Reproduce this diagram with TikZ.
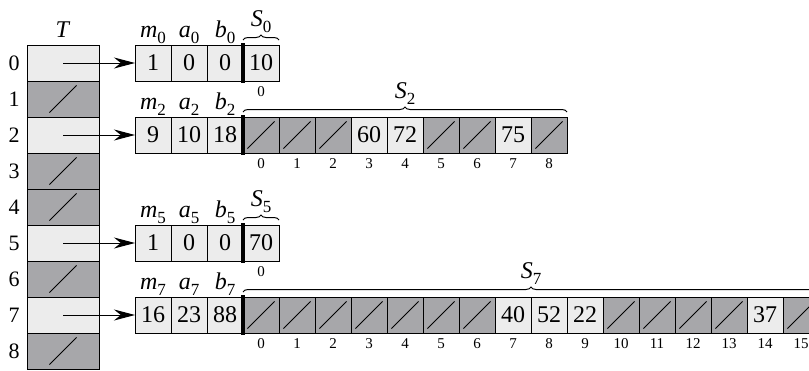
\documentclass[tikz,border=0pt]{standalone}
\usepackage{fontspec}
\setmainfont{Liberation Serif}
\usetikzlibrary{arrows.meta, decorations.pathreplacing}
\definecolor{slotlight}{RGB}{236,236,236}
\definecolor{slotdark}{RGB}{167,167,170}
\newcommand{\sublbl}[2]{\textit{#1}\raisebox{-0.55ex}{\fontsize{8.5pt}{9pt}\selectfont #2}}

\begin{document}
\begin{tikzpicture}[
          x=0.5pt, y=-0.5pt,
          font=\fontsize{12pt}{13pt}\selectfont,
          >=Stealth,
          cell/.style={draw, line width=0.5pt, minimum width=18pt, minimum height=18pt, inner sep=0pt, outer sep=0pt},
          full/.style={cell, fill=slotlight},
          nil/.style={cell, fill=slotdark, path picture={\draw[line width=0.5pt] ([shift={(-6.8pt,-6.8pt)}]path picture bounding box.center) -- ([shift={(6.8pt,6.8pt)}]path picture bounding box.center);}},
          tfull/.style={full, minimum width=36pt},
          tnil/.style={nil, minimum width=36pt},
          idx/.style={anchor=north, inner sep=0pt, font=\fontsize{7.5pt}{8pt}\selectfont},
          rowidx/.style={anchor=east, inner sep=0pt, font=\fontsize{11pt}{12pt}\selectfont},
          lbl/.style={anchor=base, inner sep=0pt},
          bar/.style={line width=1.8pt},
          ptr/.style={-{Stealth[length=10.5pt, width=5.5pt]}, line width=0.5pt},
          brace/.style={decorate, decoration={brace, amplitude=2.5pt}, line width=0.5pt}
      ]
          \useasboundingbox (0,0) rectangle (809,370);

          % Tabel utama T
          \node[lbl] (tname) at (63,37) {\textit{T}};
          \foreach \r in {0,2,5,7} \node[tfull] (t\r) at (63,{63+36*\r}) {};
          \foreach \r in {1,3,4,6,8} \node[tnil] (t\r) at (63,{63+36*\r}) {};
          \foreach \r in {0,...,8} \node[rowidx] (tidx\r) at ([xshift=-3.5pt]t\r.west) {\r};

          % Baris 0
          \node[full] (m0) at (153,63) {1};
          \node[full] (a0) at (189,63) {0};
          \node[full] (b0) at (225,63) {0};
          \node[full] (s0c0) at (261,63) {10};
          \draw[bar] ([yshift=1pt]b0.north east) -- ([yshift=-1pt]b0.south east);
          \node[lbl] (m0l) at ([yshift=4pt]m0.north) {\sublbl{m}{0}};
          \node[lbl] (a0l) at ([yshift=4pt]a0.north) {\sublbl{a}{0}};
          \node[lbl] (b0l) at ([yshift=4pt]b0.north) {\sublbl{b}{0}};
          \node[idx] (s0i0) at ([yshift=-2.5pt]s0c0.south) {0};
          \draw[brace] ([yshift=2.5pt]s0c0.north west) -- ([yshift=2.5pt]s0c0.north east) node[midway, above=3.5pt, inner sep=0pt] (s0l) {\sublbl{S}{0}};
          \draw[ptr] (t0.center) -- (m0.west);

          % Baris 2
          \node[full] (m2) at (153,135) {9};
          \node[full] (a2) at (189,135) {10};
          \node[full] (b2) at (225,135) {18};
          \foreach \j in {0,1,2,5,6,8} \node[nil] (s2c\j) at ({261+36*\j},135) {};
          \node[full] (s2c3) at (369,135) {60};
          \node[full] (s2c4) at (405,135) {72};
          \node[full] (s2c7) at (513,135) {75};
          \draw[bar] ([yshift=1pt]b2.north east) -- ([yshift=-1pt]b2.south east);
          \node[lbl] (m2l) at ([yshift=4pt]m2.north) {\sublbl{m}{2}};
          \node[lbl] (a2l) at ([yshift=4pt]a2.north) {\sublbl{a}{2}};
          \node[lbl] (b2l) at ([yshift=4pt]b2.north) {\sublbl{b}{2}};
          \foreach \j in {0,...,8} \node[idx] (s2i\j) at ([yshift=-2.5pt]s2c\j.south) {\j};
          \draw[brace] ([yshift=2.5pt]s2c0.north west) -- ([yshift=2.5pt]s2c8.north east) node[midway, above=3.5pt, inner sep=0pt] (s2l) {\sublbl{S}{2}};
          \draw[ptr] (t2.center) -- (m2.west);

          % Baris 5
          \node[full] (m5) at (153,243) {1};
          \node[full] (a5) at (189,243) {0};
          \node[full] (b5) at (225,243) {0};
          \node[full] (s5c0) at (261,243) {70};
          \draw[bar] ([yshift=1pt]b5.north east) -- ([yshift=-1pt]b5.south east);
          \node[lbl] (m5l) at ([yshift=4pt]m5.north) {\sublbl{m}{5}};
          \node[lbl] (a5l) at ([yshift=4pt]a5.north) {\sublbl{a}{5}};
          \node[lbl] (b5l) at ([yshift=4pt]b5.north) {\sublbl{b}{5}};
          \node[idx] (s5i0) at ([yshift=-2.5pt]s5c0.south) {0};
          \draw[brace] ([yshift=2.5pt]s5c0.north west) -- ([yshift=2.5pt]s5c0.north east) node[midway, above=3.5pt, inner sep=0pt] (s5l) {\sublbl{S}{5}};
          \draw[ptr] (t5.center) -- (m5.west);

          % Baris 7
          \node[full] (m7) at (153,315) {16};
          \node[full] (a7) at (189,315) {23};
          \node[full] (b7) at (225,315) {88};
          \foreach \j in {0,...,6,10,11,12,13,15} \node[nil] (s7c\j) at ({261+36*\j},315) {};
          \node[full] (s7c7) at (513,315) {40};
          \node[full] (s7c8) at (549,315) {52};
          \node[full] (s7c9) at (585,315) {22};
          \node[full] (s7c14) at (765,315) {37};
          \draw[bar] ([yshift=1pt]b7.north east) -- ([yshift=-1pt]b7.south east);
          \node[lbl] (m7l) at ([yshift=4pt]m7.north) {\sublbl{m}{7}};
          \node[lbl] (a7l) at ([yshift=4pt]a7.north) {\sublbl{a}{7}};
          \node[lbl] (b7l) at ([yshift=4pt]b7.north) {\sublbl{b}{7}};
          \foreach \j in {0,...,15} \node[idx] (s7i\j) at ([yshift=-2.5pt]s7c\j.south) {\j};
          \draw[brace] ([yshift=2.5pt]s7c0.north west) -- ([yshift=2.5pt]s7c15.north east) node[midway, above=3.5pt, inner sep=0pt] (s7l) {\sublbl{S}{7}};
          \draw[ptr] (t7.center) -- (m7.west);
      \end{tikzpicture}
\end{document}
